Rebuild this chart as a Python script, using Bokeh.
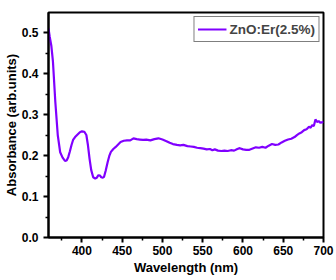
from bokeh.plotting import figure
from bokeh.models import Range1d, FixedTicker, Legend, LegendItem, CustomJSTickFormatter
from bokeh.embed import file_html
from bokeh.resources import INLINE

wavelength = [358.5, 360, 362, 364, 367, 370, 373, 376, 379, 381, 383, 385, 387, 389, 391.5, 394, 397.5,
              400, 403, 405.5, 407.5, 409.5, 411.5, 414, 416.5, 418.5, 420.5, 422.5, 424, 426, 427.5,
              429.5, 432, 434, 436, 439, 442, 445, 448, 452, 456, 460, 464, 468, 472, 476, 480, 485,
              490, 495, 500, 505, 509, 513, 518, 522, 526, 531, 535, 539, 543, 547, 551, 555, 559,
              562, 565, 569, 573, 577, 581, 585, 589, 593, 596, 600, 604, 608, 612, 616, 620, 624,
              628, 632, 636, 640, 644, 648, 652, 656, 660, 664, 667, 670, 673, 676, 679, 682, 684,
              686, 688, 690, 692, 694, 696, 698, 700]
absorbance = [0.51, 0.49, 0.468, 0.43, 0.33, 0.25, 0.208, 0.195, 0.187, 0.188, 0.196, 0.21, 0.225, 0.238,
              0.245, 0.25, 0.257, 0.259, 0.258, 0.25, 0.225, 0.192, 0.165, 0.147, 0.144, 0.146, 0.152,
              0.151, 0.147, 0.146, 0.148, 0.163, 0.184, 0.199, 0.209, 0.216, 0.221, 0.227, 0.233,
              0.236, 0.237, 0.237, 0.242, 0.240, 0.239, 0.238, 0.239, 0.237, 0.240, 0.242, 0.239,
              0.235, 0.231, 0.228, 0.226, 0.225, 0.226, 0.223, 0.222, 0.221, 0.219, 0.218, 0.217,
              0.215, 0.216, 0.213, 0.215, 0.212, 0.211, 0.212, 0.211, 0.213, 0.212, 0.216, 0.218,
              0.215, 0.214, 0.214, 0.217, 0.220, 0.219, 0.221, 0.219, 0.224, 0.228, 0.226, 0.227,
              0.232, 0.236, 0.239, 0.241, 0.245, 0.25, 0.254, 0.257, 0.262, 0.264, 0.270, 0.268,
              0.274, 0.272, 0.288, 0.282, 0.284, 0.280, 0.281, 0.282]
series_label = "ZnO:Er(2.5%)"
x_ticks = [400, 450, 500, 550, 600, 650, 700]
x_minor = [375, 425, 475, 525, 575, 625, 675]
y_ticks = [0.0, 0.1, 0.2, 0.3, 0.4, 0.5]
y_minor = [0.05, 0.15, 0.25, 0.35, 0.45]

FONT = "Liberation Sans"

p = figure(width=336, height=280, output_backend="svg", toolbar_location=None,
           x_range=Range1d(358.5, 700), y_range=Range1d(0, 0.549),
           min_border_top=12, min_border_right=13, min_border_left=43, min_border_bottom=43)
p.background_fill_color = "white"
p.border_fill_color = "white"
p.grid.visible = False
p.outline_line_color = "black"
p.outline_line_width = 2

r = p.line(wavelength, absorbance, line_color="#8000FF", line_width=2.2)

for ax in (p.xaxis[0], p.yaxis[0]):
    ax.axis_line_width = 2
    ax.major_tick_line_width = 2
    ax.minor_tick_line_width = 1.5
    ax.major_tick_out = 5
    ax.major_tick_in = 0
    ax.minor_tick_out = 3
    ax.minor_tick_in = 0
    ax.major_label_text_font = FONT
    ax.major_label_text_font_style = "bold"
    ax.major_label_text_font_size = "12px"
    ax.major_label_text_color = "black"
    ax.axis_label_text_font = FONT
    ax.axis_label_text_font_style = "bold"
    ax.axis_label_text_font_size = "13px"
    ax.axis_label_text_color = "black"

p.xaxis.ticker = FixedTicker(ticks=x_ticks, minor_ticks=x_minor)
p.yaxis.ticker = FixedTicker(ticks=y_ticks, minor_ticks=y_minor)
p.yaxis.formatter = CustomJSTickFormatter(code="return tick.toFixed(1);")
p.xaxis.axis_label = "Wavelength (nm)"
p.yaxis.axis_label = "Absorbance (arb.units)"
p.xaxis.major_label_standoff = 3
p.yaxis.major_label_standoff = 5
p.xaxis.axis_label_standoff = 2
p.yaxis.axis_label_standoff = 0

legend = Legend(items=[LegendItem(label=series_label, renderers=[r])], location="top_right")
legend.label_text_font = FONT
legend.label_text_font_style = "bold"
legend.label_text_font_size = "13.5px"
legend.border_line_color = "black"
legend.border_line_width = 1
legend.glyph_width = 29
legend.glyph_height = 18
legend.label_standoff = 3
legend.padding = 3
legend.margin = 4
legend.spacing = 0
legend.background_fill_alpha = 1
p.add_layout(legend)

open("out.html", "w").write(file_html(p, INLINE))
